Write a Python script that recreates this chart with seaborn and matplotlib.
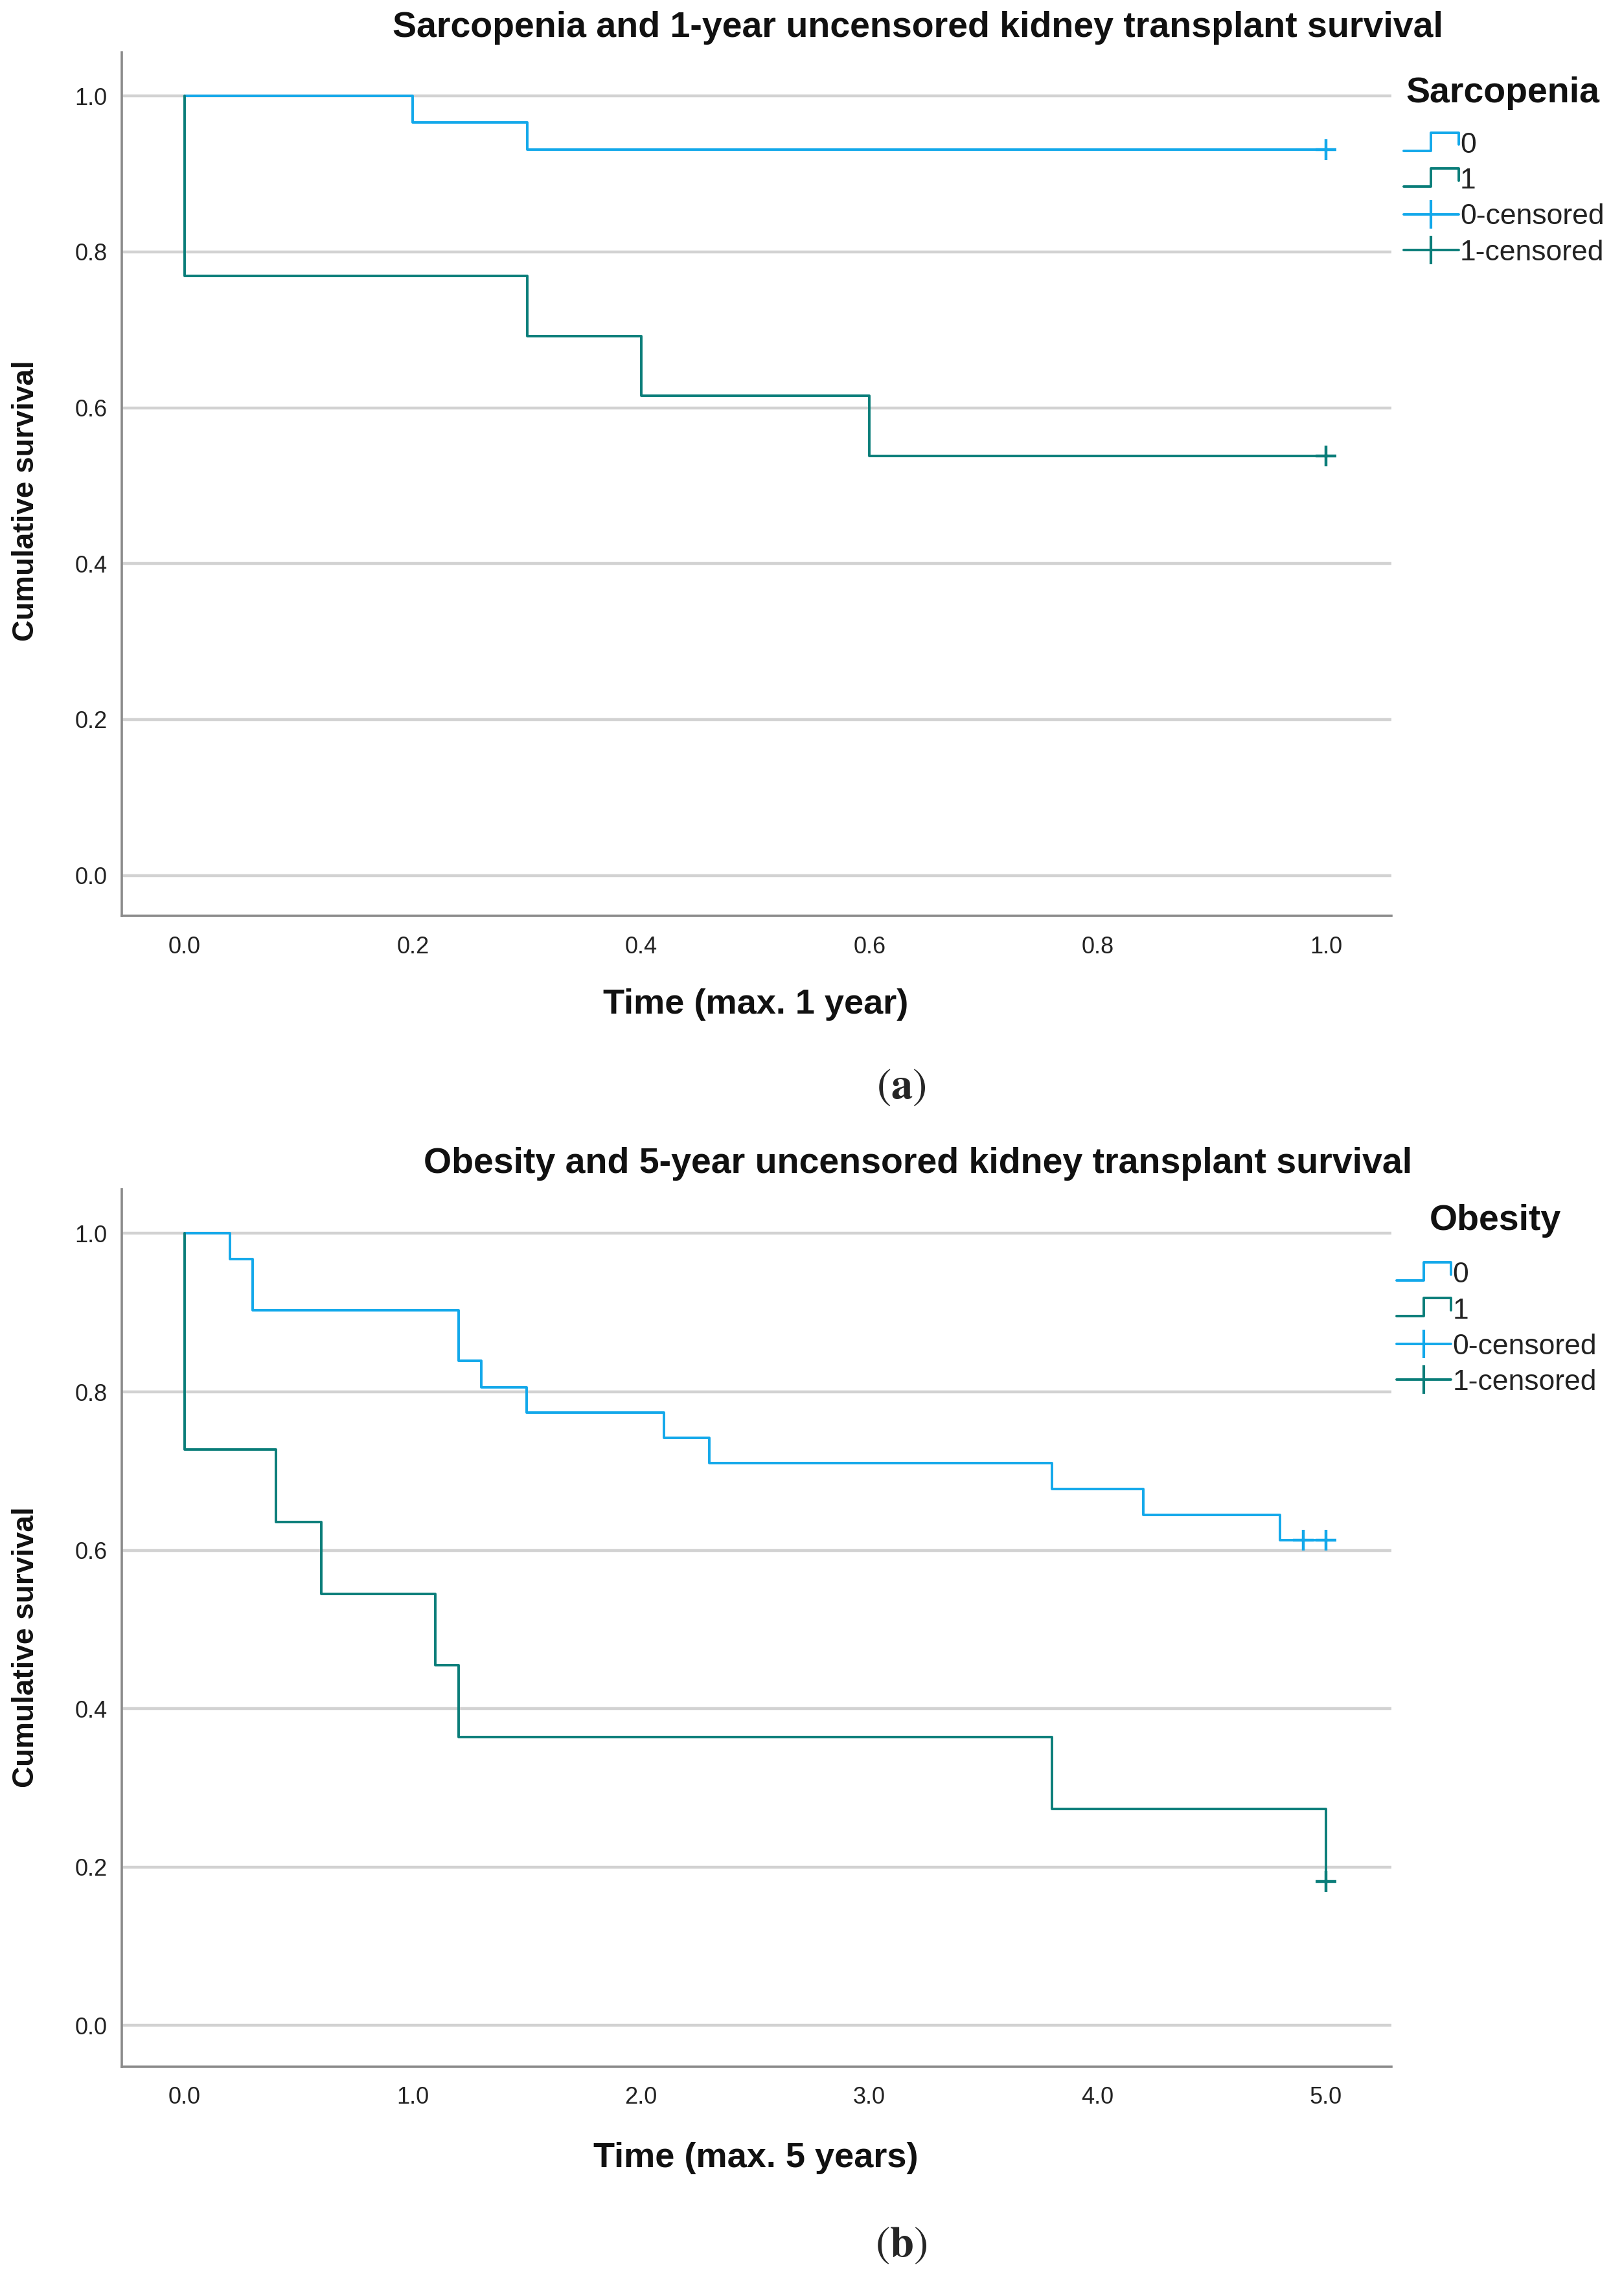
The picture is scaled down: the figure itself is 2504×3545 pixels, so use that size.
import numpy as np
import pandas as pd
import seaborn as sns
import matplotlib.pyplot as plt
from matplotlib.lines import Line2D
from matplotlib.legend_handler import HandlerBase

# panel (a): sarcopenia, 1 year
sarc_t0 = [0.0, 0.2, 0.3, 1.0]
sarc_s0 = [1.0, 0.966, 0.931, 0.931]
sarc_t1 = [0.0, 0.0, 0.3, 0.4, 0.6, 1.0]
sarc_s1 = [1.0, 0.769, 0.692, 0.615, 0.538, 0.538]
sarc_cens_t0 = [1.0]
sarc_cens_s0 = [0.931]
sarc_cens_t1 = [1.0]
sarc_cens_s1 = [0.538]

# panel (b): obesity, 5 years
obes_t0 = [0.0, 0.2, 0.3, 1.2, 1.3, 1.5, 2.1, 2.3, 3.8, 4.2, 4.8, 5.0]
obes_s0 = [1.0, 0.968, 0.903, 0.839, 0.806, 0.774, 0.742, 0.710, 0.677, 0.645, 0.613, 0.613]
obes_t1 = [0.0, 0.0, 0.4, 0.6, 1.1, 1.2, 3.8, 5.0]
obes_s1 = [1.0, 0.727, 0.636, 0.545, 0.455, 0.364, 0.273, 0.182]
obes_cens_t0 = [4.9, 5.0]
obes_cens_s0 = [0.613, 0.613]
obes_cens_t1 = [5.0]
obes_cens_s1 = [0.182]

group_labels = ["0", "1", "0-censored", "1-censored"]
y_ticks = [0.0, 0.2, 0.4, 0.6, 0.8, 1.0]
sarc_xticks = [0.0, 0.2, 0.4, 0.6, 0.8, 1.0]
obes_xticks = [0.0, 1.0, 2.0, 3.0, 4.0, 5.0]

BLUE = "#12A8EA"
TEAL = "#0A7D79"
LW = 2.8

sns.set_style("white")
plt.rcParams["font.family"] = ["Liberation Sans", "DejaVu Sans"]
plt.rcParams["mathtext.fontset"] = "stix"


class StepLine(Line2D):
    pass


class HandlerStep(HandlerBase):
    def create_artists(self, legend, orig_handle, xdescent, ydescent,
                       width, height, fontsize, trans):
        x0 = -xdescent
        y0 = -ydescent
        xs = [x0, x0 + 0.5 * width, x0 + 0.5 * width, x0 + width, x0 + width]
        ys = [y0 + 0.1 * height, y0 + 0.1 * height, y0 + 1.0 * height,
              y0 + 1.0 * height, y0 + 0.4 * height]
        line = Line2D(xs, ys, color=orig_handle.get_color(),
                      lw=orig_handle.get_linewidth(), transform=trans)
        return [line]


def draw_panel(ax, t0, s0, t1, s1, ct0, cs0, ct1, cs1, xticks, xlim):
    sns.lineplot(x=t0, y=s0, ax=ax, color=BLUE, lw=LW, drawstyle="steps-post",
                 sort=False, estimator=None)
    sns.lineplot(x=t1, y=s1, ax=ax, color=TEAL, lw=LW, drawstyle="steps-post",
                 sort=False, estimator=None)
    sns.scatterplot(x=ct0, y=cs0, ax=ax, marker="+", s=520, color=BLUE,
                    linewidth=3.2, zorder=4)
    sns.scatterplot(x=ct1, y=cs1, ax=ax, marker="+", s=520, color=TEAL,
                    linewidth=3.2, zorder=4)

    ax.set_xlim(*xlim)
    ax.set_ylim(-0.052, 1.056)
    ax.set_xticks(xticks)
    ax.set_xticklabels([f"{v:.1f}" for v in xticks])
    ax.set_yticks(y_ticks)
    ax.set_yticklabels([f"{v:.1f}" for v in y_ticks])
    ax.yaxis.grid(True, color="#d2d2d2", lw=3.2, zorder=0)
    ax.xaxis.grid(False)
    ax.set_axisbelow(True)
    for side in ["top", "right"]:
        ax.spines[side].set_visible(False)
    for side in ["left", "bottom"]:
        ax.spines[side].set_color("#8a8a8a")
        ax.spines[side].set_linewidth(2.6)
    ax.tick_params(length=0, labelsize=26, labelcolor="#222222")
    ax.tick_params(axis="x", pad=22)
    ax.tick_params(axis="y", pad=16)
    ax.set_xlabel("")
    ax.set_ylabel("")


def add_legend(ax, title, x, y, title_x, title_y):
    handles = [
        StepLine([], [], color=BLUE, lw=LW),
        StepLine([], [], color=TEAL, lw=LW),
        Line2D([], [], color=BLUE, lw=LW, marker="|", markersize=32, markeredgewidth=3),
        Line2D([], [], color=TEAL, lw=LW, marker="|", markersize=32, markeredgewidth=3),
    ]
    leg = ax.legend(handles, group_labels, loc="upper left",
                    bbox_to_anchor=(x, y), bbox_transform=ax.figure.transFigure,
                    frameon=False, numpoints=1, handlelength=1.9, handletextpad=0.05,
                    labelspacing=0.32, borderpad=0, borderaxespad=0,
                    fontsize=32, handler_map={StepLine: HandlerStep()})
    for txt in leg.get_texts():
        txt.set_color("#222222")
    ax.figure.text(title_x, title_y, title, ha="center", va="center",
                   fontsize=40, fontweight="bold", color="#111111")


fig = plt.figure(figsize=(25.04, 35.45), dpi=100)

ax_a = fig.add_axes([0.0751, 0.6011, 0.7827, 0.3761])
draw_panel(ax_a, sarc_t0, sarc_s0, sarc_t1, sarc_s1,
           sarc_cens_t0, sarc_cens_s0, sarc_cens_t1, sarc_cens_s1,
           sarc_xticks, (-0.055, 1.057))
add_legend(ax_a, "Sarcopenia", 0.8655, 0.9425, 0.9265, 0.9594)

ax_b = fig.add_axes([0.0751, 0.0999, 0.7827, 0.3822])
draw_panel(ax_b, obes_t0, obes_s0, obes_t1, obes_s1,
           obes_cens_t0, obes_cens_s0, obes_cens_t1, obes_cens_s1,
           obes_xticks, (-0.274, 5.287))
add_legend(ax_b, "Obesity", 0.8610, 0.4504, 0.922, 0.4683)

fig.text(0.566, 0.9879, "Sarcopenia and 1-year uncensored kidney transplant survival",
         ha="center", va="center", fontsize=40, fontweight="bold", color="#111111")
fig.text(0.566, 0.4931, "Obesity and 5-year uncensored kidney transplant survival",
         ha="center", va="center", fontsize=40, fontweight="bold", color="#111111")

fig.text(0.016, 0.782, "Cumulative survival", rotation=90, ha="center", va="center",
         fontsize=33, fontweight="bold", color="#111111")
fig.text(0.016, 0.2827, "Cumulative survival", rotation=90, ha="center", va="center",
         fontsize=33, fontweight="bold", color="#111111")

fig.text(0.466, 0.5625, "Time (max. 1 year)", ha="center", va="center",
         fontsize=39, fontweight="bold", color="#111111")
fig.text(0.466, 0.0601, "Time (max. 5 years)", ha="center", va="center",
         fontsize=39, fontweight="bold", color="#111111")

fig.text(0.5556, 0.5264, r"$(\mathbf{a})$", ha="center", va="center", fontsize=48)
fig.text(0.5556, 0.0220, r"$(\mathbf{b})$", ha="center", va="center", fontsize=48)

fig.savefig("out.png", dpi=100)
